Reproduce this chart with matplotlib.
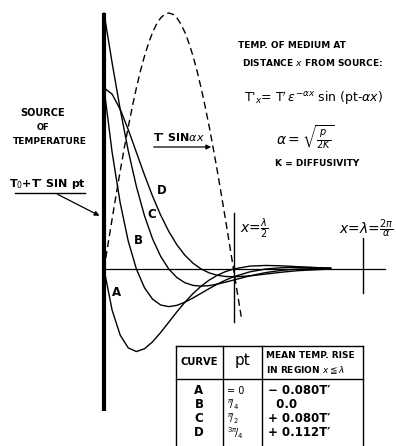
import matplotlib
matplotlib.use("Agg")
import matplotlib.pyplot as plt

# distance from source, as fraction of wavelength lambda = 2*pi/alpha
x_curve = [0.0, 0.03125, 0.0625, 0.09375, 0.125, 0.15625, 0.1875, 0.21875, 0.25,
           0.28125, 0.3125, 0.34375, 0.375, 0.40625, 0.4375, 0.46875, 0.5,
           0.5625, 0.625, 0.6875, 0.75, 0.875]

# temperature of medium, in units of T'
curve_a = [0.0, -0.1603, -0.2584, -0.3083, -0.3224, -0.3116, -0.2845, -0.2481, -0.2079,
           -0.1675, -0.1297, -0.0959, -0.0670, -0.0433, -0.0245, -0.0103, 0.0,
           0.0112, 0.0139, 0.0123, 0.0090, 0.0029]
curve_b = [0.7071, 0.4565, 0.2584, 0.1083, 0.0, -0.0731, -0.1178, -0.1406, -0.1470,
           -0.1420, -0.1297, -0.1131, -0.0948, -0.0764, -0.0591, -0.0437, -0.0305,
           -0.0112, 0.0, 0.0051, 0.0064, 0.0041]
curve_c = [1.0, 0.8059, 0.6238, 0.4614, 0.3224, 0.2082, 0.1178, 0.0494, 0.0,
           -0.0333, -0.0537, -0.0641, -0.0670, -0.0648, -0.0591, -0.0516, -0.0432,
           -0.0270, -0.0139, -0.0051, 0.0, 0.0029]
curve_d = [0.7071, 0.6832, 0.6238, 0.5442, 0.4559, 0.3675, 0.2845, 0.2104, 0.1470,
           0.0949, 0.0537, 0.0225, 0.0, -0.0152, -0.0245, -0.0292, -0.0305,
           -0.0270, -0.0197, -0.0123, -0.0064, 0.0]
curve_names = ["A", "B", "C", "D"]

# dashed envelope T' sin(alpha x)
x_dash = [0.0, 0.0156, 0.0313, 0.0469, 0.0625, 0.0781, 0.0938, 0.1094, 0.125,
          0.1406, 0.1563, 0.1719, 0.1875, 0.2031, 0.2188, 0.2344, 0.25,
          0.2656, 0.2813, 0.2969, 0.3125, 0.3281, 0.3438, 0.3594, 0.375,
          0.3906, 0.4063, 0.4219, 0.4375, 0.4531, 0.4688, 0.4844, 0.5,
          0.5156, 0.5313]
y_dash = [0.0, 0.0980, 0.1951, 0.2903, 0.3827, 0.4714, 0.5556, 0.6344, 0.7071,
          0.7730, 0.8315, 0.8819, 0.9239, 0.9569, 0.9808, 0.9952, 1.0,
          0.9952, 0.9808, 0.9569, 0.9239, 0.8819, 0.8315, 0.7730, 0.7071,
          0.6344, 0.5556, 0.4714, 0.3827, 0.2903, 0.1951, 0.0980, 0.0,
          -0.0980, -0.1951]

# table
table_pt = [r"= 0", r"$^{\pi}\!/_{4}$", r"$^{\pi}\!/_{2}$", r"$^{3\pi}\!/_{4}$"]
table_rise = ["\u2212 0.080T\u2032", "  0.0", "+ 0.080T\u2032", "+ 0.112T\u2032"]

plt.rcParams["font.family"] = ["DejaVu Sans"]
plt.rcParams["mathtext.fontset"] = "dejavusans"
plt.rcParams["mathtext.default"] = "it"

fig = plt.figure(figsize=(3.96, 4.46), dpi=100)
ax = fig.add_axes([0, 0, 1, 1])
# 1 lambda = 259 px, 1 T' = 256 px, origin at (104, 269) px
ax.set_xlim(-104 / 259, 292 / 259)
ax.set_ylim(-177 / 256, 269 / 256)
ax.axis("off")


def P(px, py):
  # pixel position -> data coords, for placing labels
  return ((px - 104) / 259, (269 - py) / 256)


k = "black"
B = dict(fontweight="bold", va="center")
N = dict(fontweight="normal", va="center")

# source bar and axis
ax.plot([0, 0], [P(0, 13)[1], P(0, 411)[1]], color=k, lw=3.0, solid_capstyle="butt")
ax.plot([0, P(385, 0)[0]], [0, 0], color=k, lw=0.9)
ax.plot([0.5, 0.5], [P(0, 213)[1], P(0, 322)[1]], color=k, lw=1.0)
ax.plot([1.0, 1.0], [P(0, 238)[1], P(0, 293)[1]], color=k, lw=1.0)

for ys in [curve_a, curve_b, curve_c, curve_d]:
  ax.plot(x_curve, ys, color=k, lw=1.0)
ax.plot(x_dash, y_dash, color=k, lw=1.0, dashes=(5, 3))

fs = 6.5
label_pos = [(117, 292), (138, 240), (152, 215), (162, 190)]
for name, (lx, ly) in zip(curve_names, label_pos):
  ax.text(*P(lx, ly), name, fontsize=8.5, ha="center", **B)

# source labels
ax.text(*P(43, 113), "SOURCE", fontsize=7, ha="center", **B)
ax.text(*P(43, 127), "OF", fontsize=6, ha="center", **B)
ax.text(*P(50, 142), "TEMPERATURE", fontsize=6.5, ha="center", **B)

ax.text(*P(47, 184), "T$_0$+T\u2032 SIN pt", fontsize=8, ha="center", **B)
ax.plot([P(15, 0)[0], P(85, 0)[0]], [P(0, 193)[1]] * 2, color=k, lw=1.0)
ax.annotate("", xy=P(102, 217), xytext=P(55, 193),
            arrowprops=dict(arrowstyle="-|>", color=k, lw=0.9, mutation_scale=7))

ax.text(*P(179, 137), "T\u2032 SIN$\\alpha x$", fontsize=8, ha="center", **B)
ax.annotate("", xy=P(214, 147), xytext=P(151, 147),
            arrowprops=dict(arrowstyle="-|>", color=k, lw=0.9, mutation_scale=7))

# top right notes
ax.text(*P(238, 46), "TEMP. OF MEDIUM AT", fontsize=fs, ha="left", **B)
ax.text(*P(242, 63), "DISTANCE $x$ FROM SOURCE:", fontsize=fs, ha="left", **B)
ax.text(*P(244, 98), r"T$'_{x}$= T$'\,\varepsilon^{-\alpha x}$ sin (pt-$\alpha x$)",
        fontsize=9, ha="left", **N)
ax.text(*P(276, 137), r"$\alpha = \sqrt{\frac{p}{2K}}$", fontsize=10, ha="left", **N)
ax.text(*P(275, 163), "K = DIFFUSIVITY", fontsize=fs, ha="left", **B)

ax.text(*P(240, 228), r"$x$=$\frac{\lambda}{2}$", fontsize=10, ha="left", **N)
ax.text(*P(339, 229), r"$x$=$\lambda$=$\frac{2\pi}{\alpha}$", fontsize=10, ha="left", **N)

# table
tl, c1, c2, tr = 176, 223, 262, 363
ttop, thead, tbot = 346, 379, 446
for xx in [tl, c1, c2, tr]:
  ax.plot([P(xx, 0)[0]] * 2, [P(0, ttop)[1], P(0, tbot)[1]], color=k, lw=1.0)
for yy in [ttop, thead]:
  ax.plot([P(tl, 0)[0], P(tr, 0)[0]], [P(0, yy)[1]] * 2, color=k, lw=1.0)
ax.text(*P(199, 362), "CURVE", fontsize=7.2, ha="center", **B)
ax.text(*P(242, 361), "pt", fontsize=11, ha="center", **N)
ax.text(*P(266, 355), "MEAN TEMP. RISE", fontsize=fs, ha="left", **B)
ax.text(*P(266, 370), r"IN REGION $x \leqq \lambda$", fontsize=fs, ha="left", **B)

row_y = [391, 405, 419, 433]
for name, pt, rise, ry in zip(curve_names, table_pt, table_rise, row_y):
  ax.text(*P(199, ry), name, fontsize=8.5, ha="center", **B)
  ax.text(*P(227, ry), pt, fontsize=7, ha="left", **N)
  ax.text(*P(268, ry), rise, fontsize=8.5, ha="left", **B)

plt.savefig("out.png", dpi=100)
